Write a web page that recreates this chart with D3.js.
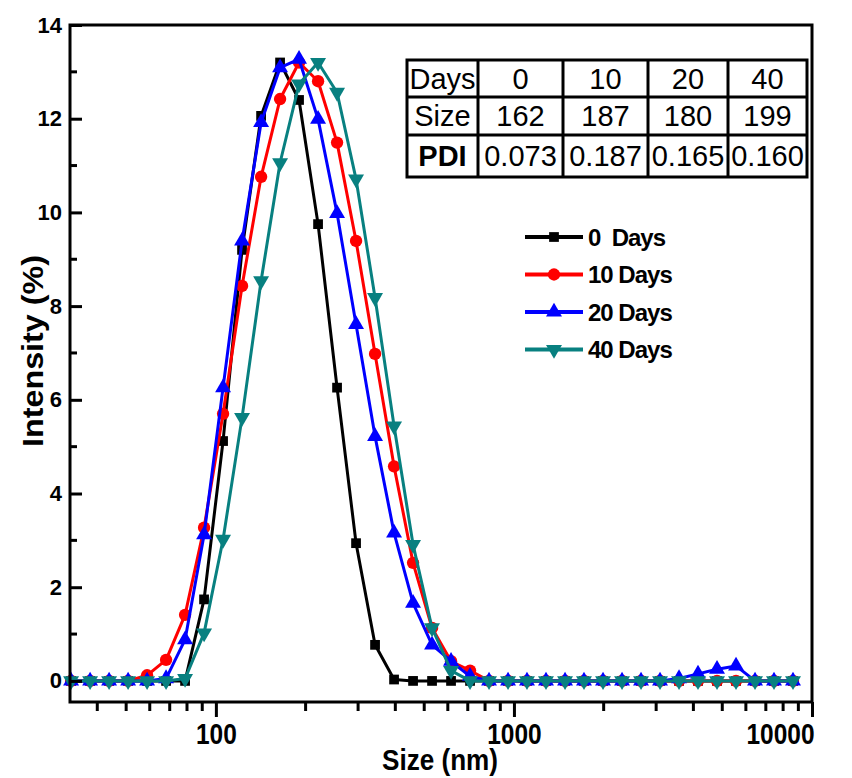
<!DOCTYPE html>
<html>
<head>
<meta charset="utf-8">
<script src="https://cdn.jsdelivr.net/npm/d3@7/dist/d3.min.js"></script>
<style>
  body { margin: 0; background: #fff; }
  text { font-family: "Liberation Sans", Arial, sans-serif; }
</style>
</head>
<body>
<svg id="chart"></svg>
<script>
// size classes of the instrument (nm)
const sizes = [32.67, 37.84, 43.82, 50.75, 58.77, 68.06, 78.82, 91.28, 105.7, 122.4,
  141.8, 164.2, 190.1, 220.2, 255.0, 295.3, 342.0, 396.1, 458.7, 531.2,
  615.1, 712.4, 825.0, 955.4, 1106, 1281, 1484, 1718, 1990, 2305,
  2669, 3091, 3580, 4145, 4801, 5560, 6439, 7456, 8635];

// intensity (%) for each storage time
const days0 = [0, 0, 0, 0, 0, 0, 0, 1.74, 5.12, 9.2,
  12.06, 13.2, 12.4, 9.75, 6.26, 2.94, 0.77, 0.03, 0, 0,
  0, 0, 0, 0, 0, 0, 0, 0, 0, 0,
  0, 0, 0, 0, 0, 0, 0, 0, 0];
const days10 = [0, 0, 0, 0, 0.12, 0.45, 1.41, 3.27, 5.7, 8.43,
  10.76, 12.42, 13.2, 12.8, 11.49, 9.39, 6.98, 4.58, 2.52, 1.13,
  0.42, 0.22, 0, 0, 0, 0, 0, 0, 0, 0,
  0, 0, 0, 0, 0, 0, 0, 0, 0];
const days20 = [0, 0, 0, 0, 0, 0.05, 0.88, 3.12, 6.26, 9.39,
  11.92, 13.09, 13.27, 11.99, 9.98, 7.61, 5.22, 3.16, 1.66, 0.77,
  0.42, 0.1, 0, 0, 0, 0, 0, 0, 0, 0,
  0, 0, 0.05, 0.15, 0.25, 0.32, 0, 0, 0];
const days40 = [0, 0, 0, 0, 0, 0, 0.05, 1.02, 3.02, 5.62,
  8.54, 11.06, 12.74, 13.2, 12.56, 10.71, 8.18, 5.44, 2.91, 1.13,
  0.22, 0, 0, 0, 0, 0, 0, 0, 0, 0,
  0, 0, 0, 0, 0, 0, 0, 0, 0];

const seriesNames = ["0  Days", "10 Days", "20 Days", "40 Days"];

// inset table
const tableDays = ["Days", "0", "10", "20", "40"];
const tableSize = ["Size", "162", "187", "180", "199"];
const tablePDI = ["PDI", "0.073", "0.187", "0.165", "0.160"];

// axis ticks
const xMajor = [100, 1000, 10000];
const xMinor = [40, 50, 60, 70, 80, 90, 200, 300, 400, 500, 600, 700, 800, 900,
  2000, 3000, 4000, 5000, 6000, 7000, 8000, 9000];
const yMajor = [0, 2, 4, 6, 8, 10, 12, 14];
const yMinor = [1, 3, 5, 7, 9, 11, 13];

// set the dimensions and margins of the graph
var W = 852, H = 778;
var margin = {top: 25, right: 40, bottom: 76, left: 70},
    width = W - margin.left - margin.right,
    height = H - margin.top - margin.bottom;

var x = d3.scaleLog().domain([32.4, 10000]).range([0, width]);
var y = d3.scaleLinear().domain([-0.45, 14]).range([height, 0]);

var svg = d3.select("#chart")
    .attr("width", W)
    .attr("height", H)
    .append("g")
    .attr("transform", "translate(" + margin.left + "," + margin.top + ")");

var series = [
  {name: seriesNames[0], values: days0, color: "#000000", sym: d3.symbolSquare, size: 95, rot: 0},
  {name: seriesNames[1], values: days10, color: "#ff0000", sym: d3.symbolCircle, size: 120, rot: 0},
  {name: seriesNames[2], values: days20, color: "#0000ff", sym: d3.symbolTriangle, size: 110, rot: 0},
  {name: seriesNames[3], values: days40, color: "#088080", sym: d3.symbolTriangle, size: 110, rot: 180}
];

var line = d3.line()
    .x(function(d) { return x(d[0]); })
    .y(function(d) { return y(d[1]); });

series.forEach(function(s) {
  var pts = sizes.map(function(v, i) { return [v, s.values[i]]; });
  svg.append("path")
      .datum(pts)
      .attr("fill", "none")
      .attr("stroke", s.color)
      .attr("stroke-width", 3)
      .attr("stroke-linejoin", "round")
      .attr("d", line);
  svg.selectAll(null)
      .data(pts)
      .enter().append("path")
      .attr("d", d3.symbol().type(s.sym).size(s.size))
      .attr("fill", s.color)
      .attr("transform", function(d) {
        return "translate(" + x(d[0]) + "," + y(d[1]) + ") rotate(" + s.rot + ")";
      });
});

// frame
svg.append("rect")
    .attr("width", width)
    .attr("height", height)
    .attr("fill", "none")
    .attr("stroke", "#000")
    .attr("stroke-width", 3);

// x axis (ticks outward)
var xAxis = svg.append("g")
    .attr("transform", "translate(0," + height + ")")
    .call(d3.axisBottom(x).tickValues(xMajor).tickSize(15).tickPadding(6)
      .tickFormat(d3.format("d")));
xAxis.select(".domain").remove();
xAxis.selectAll(".tick line").attr("stroke-width", 3);
xAxis.selectAll(".tick text")
    .attr("font-size", 30)
    .attr("font-weight", "bold")
    .attr("fill", "#000")
    .attr("textLength", function(d) { return String(d).length * 13.6; })
    .attr("lengthAdjust", "spacingAndGlyphs")
    .attr("text-anchor", function(d) { return d === 10000 ? "end" : "middle"; })
    .attr("x", function(d) { return d === 10000 ? 2 : 0; });
svg.append("g").selectAll("line")
    .data(xMinor).enter().append("line")
    .attr("x1", function(d) { return x(d); })
    .attr("x2", function(d) { return x(d); })
    .attr("y1", height)
    .attr("y2", height + 9)
    .attr("stroke", "#000")
    .attr("stroke-width", 3);

// y axis (ticks inward)
var yAxis = svg.append("g")
    .call(d3.axisLeft(y).tickValues(yMajor).tickSize(-12).tickPadding(8));
yAxis.select(".domain").remove();
yAxis.selectAll(".tick line").attr("stroke-width", 3);
yAxis.selectAll(".tick text")
    .attr("font-size", 22)
    .attr("font-weight", "bold")
    .attr("fill", "#000")
    .attr("x", -8);
svg.append("g").selectAll("line")
    .data(yMinor).enter().append("line")
    .attr("x1", 0)
    .attr("x2", 7)
    .attr("y1", function(d) { return y(d); })
    .attr("y2", function(d) { return y(d); })
    .attr("stroke", "#000")
    .attr("stroke-width", 3);

// axis titles
svg.append("text")
    .attr("x", 370)
    .attr("y", height + 68)
    .attr("text-anchor", "middle")
    .attr("font-size", 30)
    .attr("font-weight", "bold")
    .attr("textLength", 116)
    .attr("lengthAdjust", "spacingAndGlyphs")
    .text("Size (nm)");
svg.append("text")
    .attr("transform", "translate(-27," + 326 + ") rotate(-90)")
    .attr("text-anchor", "middle")
    .attr("font-size", 30)
    .attr("font-weight", "bold")
    .attr("textLength", 192)
    .attr("lengthAdjust", "spacingAndGlyphs")
    .text("Intensity (%)");

// legend
var legend = svg.append("g").attr("transform", "translate(455,212)");
series.forEach(function(s, i) {
  var g = legend.append("g").attr("transform", "translate(0," + i * 37.5 + ")");
  g.append("line")
      .attr("x1", 0).attr("x2", 58)
      .attr("stroke", s.color).attr("stroke-width", 4);
  g.append("path")
      .attr("d", d3.symbol().type(s.sym).size(s.size))
      .attr("fill", s.color)
      .attr("transform", "translate(29,0) rotate(" + s.rot + ")");
  g.append("text")
      .attr("x", 63)
      .attr("dy", "0.36em")
      .attr("font-size", 24)
      .attr("font-weight", "bold")
      .attr("letter-spacing", -1)
      .style("white-space", "pre")
      .text(s.name);
});

// inset table
var colEdges = [0, 71, 156, 241, 321, 400];
var rowEdges = [0, 37, 75, 117];
var table = svg.append("g").attr("transform", "translate(337,35)");
table.append("rect")
    .attr("width", colEdges[colEdges.length - 1])
    .attr("height", rowEdges[rowEdges.length - 1])
    .attr("fill", "#fff")
    .attr("stroke", "#000")
    .attr("stroke-width", 3);
colEdges.slice(1, -1).forEach(function(cx) {
  table.append("line").attr("x1", cx).attr("x2", cx)
      .attr("y1", 0).attr("y2", rowEdges[rowEdges.length - 1])
      .attr("stroke", "#000").attr("stroke-width", 3);
});
rowEdges.slice(1, -1).forEach(function(ry) {
  table.append("line").attr("y1", ry).attr("y2", ry)
      .attr("x1", 0).attr("x2", colEdges[colEdges.length - 1])
      .attr("stroke", "#000").attr("stroke-width", 3);
});
[tableDays, tableSize, tablePDI].forEach(function(row, r) {
  row.forEach(function(cell, c) {
    table.append("text")
        .attr("x", (colEdges[c] + colEdges[c + 1]) / 2)
        .attr("y", (rowEdges[r] + rowEdges[r + 1]) / 2)
        .attr("dy", "0.36em")
        .attr("text-anchor", "middle")
        .attr("font-size", 29)
        .attr("font-weight", r === 2 && c === 0 ? "bold" : "normal")
        .text(cell);
  });
});
</script>
</body>
</html>
